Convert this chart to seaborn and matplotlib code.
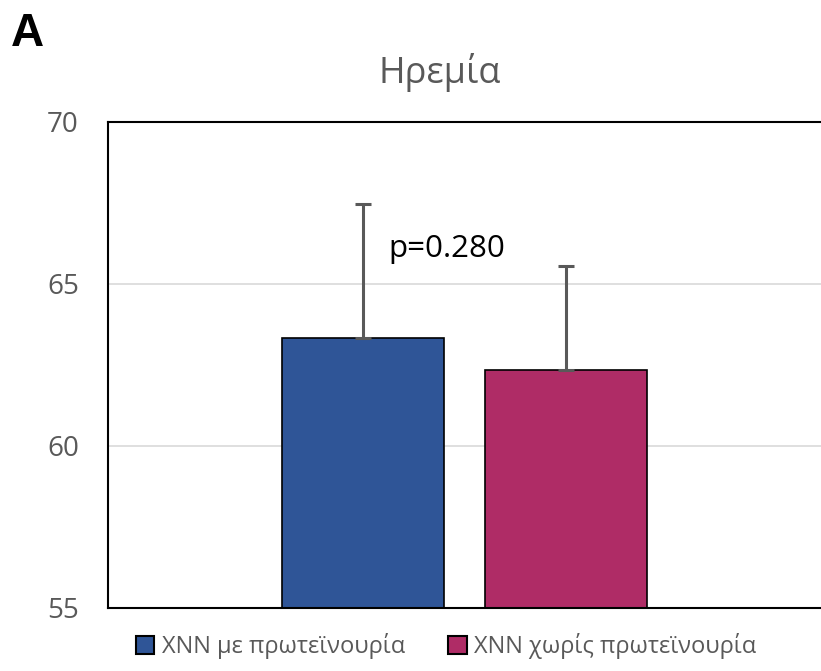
import pandas as pd
import matplotlib.pyplot as plt
from matplotlib.patches import Patch
import seaborn as sns

# ---------------------------
# Data
# ---------------------------
condition = ["Ηρεμία", "Ηρεμία"]
groups = ["ΧΝΝ με πρωτεϊνουρία", "ΧΝΝ χωρίς πρωτεϊνουρία"]
means = [63.33, 62.35]
sds = [4.14, 3.21]
y_ticks = [55, 60, 65, 70]
p_label = "p=0.280"

colors = ["#2F5597", "#AF2C66"]
grey = "#595959"

df = pd.DataFrame({"condition": condition, "group": groups, "mean": means, "sd": sds})

# ---------------------------
# Style
# ---------------------------
sns.set_theme(style="white")
plt.rcParams["font.family"] = ["Open Sans", "DejaVu Sans"]

fig = plt.figure(figsize=(8.21, 6.71), dpi=100)
ax = fig.add_axes([108 / 821, 63 / 671, 1 - 108 / 821, 486 / 671])

sns.barplot(data=df, x="condition", y="mean", hue="group", hue_order=groups,
            palette=colors, saturation=1, width=0.57, gap=0.2, edgecolor="black",
            linewidth=1.2, errorbar=None, legend=False, ax=ax, zorder=2)

# one-sided error bars on top of each bar
for cont, sd in zip(ax.containers, sds):
    for bar in cont:
        xc = bar.get_x() + bar.get_width() / 2
        top = bar.get_height()
        ax.errorbar([xc], [top], yerr=[[0], [sd]], fmt="none", ecolor=grey,
                    elinewidth=2.2, capsize=6, capthick=2.2, zorder=3)

ax.set_ylim(55, 70)
ax.set_yticks(y_ticks)
ax.set_xlim(-0.5, 0.5)
ax.set_xticks([])
ax.set_xlabel("")
ax.set_ylabel("")
ax.yaxis.grid(True, color="#D9D9D9", linewidth=1.2, zorder=0)
ax.set_axisbelow(True)
ax.tick_params(axis="y", labelsize=20, labelcolor=grey, length=0, pad=21)

for side in ["left", "top", "bottom"]:
    ax.spines[side].set_color("black")
    ax.spines[side].set_linewidth(1.5)
ax.spines["right"].set_visible(False)

# p-value annotation
ax.text(-0.107, 66.08, p_label, fontsize=22.5, color="black", ha="left", va="center")

# titles
fig.text(440 / 821, 1 - 72 / 671, "Ηρεμία", fontsize=26, color=grey, ha="center", va="center")
fig.text(11 / 821, 1 - 34 / 671, "A", fontsize=33, fontweight="bold", color="black",
         ha="left", va="center", family=["Liberation Sans", "DejaVu Sans"])

# legend
handles = [Patch(facecolor=c, edgecolor="black", linewidth=1.5) for c in colors]
fig.legend(handles, groups, loc="center", bbox_to_anchor=(446 / 821, 1 - 646 / 671),
           ncol=2, frameon=False, fontsize=17, handlelength=0.8, handleheight=0.8,
           handletextpad=0.3, columnspacing=1.85, labelcolor=grey)

fig.savefig("out.png", dpi=100)
